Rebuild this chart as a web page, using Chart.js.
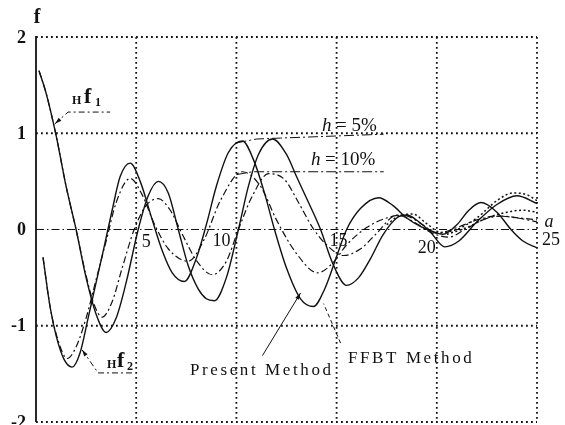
<!DOCTYPE html>
<html>
<head>
<meta charset="utf-8">
<script src="https://cdn.jsdelivr.net/npm/chart.js@4.4.1/dist/chart.umd.min.js"></script>
<style>
  html, body { margin: 0; padding: 0; background: #fff; }
  #wrap { width: 565px; height: 425px; }
</style>
</head>
<body>
<div id="wrap"><canvas id="chart" width="565" height="425"></canvas></div>
<script>
const xTicks = [5, 10, 15, 20, 25];
const yTicks = [2, 1, 0, -1, -2];

// Hf1, h = 5%
const f1h5X = [0.15, 0.5, 1.0, 1.5, 2.0, 2.5, 3.0, 3.5, 4.0, 4.5, 5.1, 5.6, 6.1, 6.6, 7.1, 7.6, 8.1, 8.5, 8.9, 9.5, 10.1, 10.6, 11.1, 11.8, 12.5, 13.0, 13.6, 14.2, 14.8, 15.5, 16.1, 16.7, 17.3, 18.0, 18.5, 19.1, 19.7, 20.4, 21.1, 22.0, 23.0, 24.0, 25.0];
const f1h5Y = [1.65, 1.42, 0.98, 0.45, 0.0, -0.5, -0.88, -1.07, -0.92, -0.55, 0.0, 0.35, 0.5, 0.38, 0.0, -0.38, -0.62, -0.72, -0.74, -0.5, 0.0, 0.45, 0.78, 0.94, 0.78, 0.55, 0.28, 0.0, -0.35, -0.58, -0.5, -0.3, -0.06, 0.12, 0.15, 0.08, -0.03, -0.18, -0.12, 0.08, 0.26, 0.35, 0.27];

// Hf1, h = 10%
const f1h10X = [0.15, 0.5, 1.0, 1.5, 2.0, 2.5, 2.9, 3.3, 3.8, 4.3, 4.9, 5.5, 6.1, 6.7, 7.3, 8.0, 8.8, 9.5, 10.1, 10.8, 11.6, 12.4, 13.1, 13.8, 14.5, 15.35, 16.2, 17.0, 18.0, 19.0, 19.8, 20.6, 21.4, 22.3, 23.2, 24.1, 25.0];
const f1h10Y = [1.65, 1.42, 0.98, 0.45, 0.0, -0.48, -0.78, -0.91, -0.75, -0.4, 0.0, 0.25, 0.32, 0.2, -0.05, -0.32, -0.47, -0.33, 0.0, 0.35, 0.58, 0.52, 0.28, 0.02, -0.16, -0.27, -0.2, -0.04, 0.15, 0.06, -0.04, -0.08, 0.0, 0.1, 0.14, 0.12, 0.1];

// Hf2, h = 5%
const f2h5X = [0.35, 0.7, 1.0, 1.4, 1.8, 2.2, 2.6, 3.0, 3.4, 3.8, 4.2, 4.7, 5.2, 5.8, 6.3, 6.8, 7.4, 8.0, 8.5, 9.0, 9.6, 10.3, 10.9, 11.4, 11.9, 12.5, 13.2, 13.85, 14.4, 15.0, 15.5, 16.2, 17.1, 17.8, 18.5, 19.2, 19.8, 20.3, 21.0, 21.6, 22.2, 23.0, 23.7, 24.3, 25.0];
const f2h5Y = [-0.29, -0.8, -1.1, -1.35, -1.43, -1.28, -0.92, -0.55, -0.18, 0.2, 0.55, 0.69, 0.5, 0.1, -0.22, -0.45, -0.54, -0.3, 0.05, 0.45, 0.8, 0.92, 0.7, 0.38, 0.0, -0.4, -0.72, -0.8, -0.62, -0.28, 0.0, 0.22, 0.33, 0.25, 0.12, 0.03, -0.02, -0.05, 0.05, 0.2, 0.28, 0.18, 0.0, -0.12, -0.19];

// Hf2, h = 10%
const f2h10X = [0.35, 0.7, 1.1, 1.55, 2.0, 2.5, 3.0, 3.5, 4.0, 4.7, 5.3, 5.9, 6.6, 7.6, 8.4, 9.2, 10.3, 11.2, 12.0, 13.0, 14.05, 14.8, 15.5, 16.5, 17.5, 18.3, 19.3, 20.0, 21.0, 22.0, 23.0, 24.0, 25.0];
const f2h10Y = [-0.29, -0.8, -1.15, -1.34, -1.22, -0.92, -0.52, -0.12, 0.28, 0.53, 0.36, 0.06, -0.2, -0.33, -0.1, 0.3, 0.6, 0.45, 0.1, -0.25, -0.45, -0.35, -0.16, 0.02, 0.12, 0.15, 0.05, -0.04, 0.02, 0.1, 0.14, 0.12, 0.08];

// FFBT method, tails that part from the present method
const ffbt5X = [17.5, 18.2, 18.8, 19.5, 20.2, 21.0, 22.0, 23.0, 23.8, 24.5, 25.0];
const ffbt5Y = [0.05, 0.15, 0.16, 0.06, -0.03, 0.0, 0.12, 0.3, 0.38, 0.36, 0.3];
const ffbt10X = [20.5, 21.5, 22.5, 23.5, 24.3, 25.0];
const ffbt10Y = [-0.05, 0.02, 0.12, 0.18, 0.2, 0.18];

// leader lines for the labels
const leadF1X = [0.95, 1.6, 3.7];
const leadF1Y = [1.1, 1.22, 1.22];
const leadF2X = [2.3, 3.1, 4.85];
const leadF2Y = [-1.25, -1.49, -1.49];
const leadH5X = [10.0, 11.0, 12.2, 17.35];
const leadH5Y = [0.9, 0.94, 0.95, 0.99];
const leadH10X = [10.0, 10.8, 17.35];
const leadH10Y = [0.57, 0.6, 0.6];
const arrowPresentX = [11.3, 13.2];
const arrowPresentY = [-1.31, -0.66];
const arrowFfbtX = [15.2, 14.35];
const arrowFfbtY = [-1.18, -0.77];

function pts(xs, ys) {
    return xs.map((x, i) => ({ x: x, y: ys[i] }));
}

const ink = '#111';
const serif = '"Liberation Serif", "DejaVu Serif", serif';

function curve(xs, ys, dash, width) {
    return {
        data: pts(xs, ys),
        borderColor: ink,
        borderWidth: width,
        borderDash: dash,
        showLine: true,
        pointRadius: 0,
        cubicInterpolationMode: 'monotone',
        fill: false
    };
}

function leader(xs, ys, dash) {
    return {
        data: pts(xs, ys),
        borderColor: ink,
        borderWidth: 1,
        borderDash: dash,
        showLine: true,
        pointRadius: 0,
        tension: 0,
        fill: false
    };
}

const gridPlugin = {
    id: 'grid',
    beforeDatasetsDraw(chart) {
        const c = chart.ctx;
        const xs = chart.scales.x;
        const ys = chart.scales.y;
        const top = ys.getPixelForValue(2), bot = ys.getPixelForValue(-2);
        const left = xs.getPixelForValue(0), right = xs.getPixelForValue(25);
        c.save();
        c.strokeStyle = ink;
        c.lineWidth = 1.8;
        c.setLineDash([1.8, 3.2]);
        xTicks.forEach(v => {
            const p = xs.getPixelForValue(v);
            c.beginPath(); c.moveTo(p, top); c.lineTo(p, bot); c.stroke();
        });
        yTicks.forEach(v => {
            if (v === 0) return;
            const p = ys.getPixelForValue(v);
            c.beginPath(); c.moveTo(left, p); c.lineTo(right, p); c.stroke();
        });
        c.lineWidth = 1.1;
        c.setLineDash([8, 3, 1.5, 3]);
        const z = ys.getPixelForValue(0);
        c.beginPath(); c.moveTo(left, z); c.lineTo(right, z); c.stroke();
        c.setLineDash([]);
        c.lineWidth = 1.8;
        c.beginPath(); c.moveTo(left, top - 1); c.lineTo(left, bot); c.stroke();
        c.restore();
    }
};

function arrowHead(chart, xs, ys) {
    const c = chart.ctx;
    const n = xs.length;
    const x1 = chart.scales.x.getPixelForValue(xs[n - 2]), y1 = chart.scales.y.getPixelForValue(ys[n - 2]);
    const x2 = chart.scales.x.getPixelForValue(xs[n - 1]), y2 = chart.scales.y.getPixelForValue(ys[n - 1]);
    const a = Math.atan2(y2 - y1, x2 - x1);
    c.beginPath();
    c.moveTo(x2, y2);
    c.lineTo(x2 - 7 * Math.cos(a - 0.3), y2 - 7 * Math.sin(a - 0.3));
    c.lineTo(x2 - 7 * Math.cos(a + 0.3), y2 - 7 * Math.sin(a + 0.3));
    c.closePath();
    c.fill();
}

const textPlugin = {
    id: 'texts',
    afterDatasetsDraw(chart) {
        const c = chart.ctx;
        const xs = chart.scales.x;
        const ys = chart.scales.y;
        const left = xs.getPixelForValue(0);
        const z = ys.getPixelForValue(0);
        c.save();
        c.fillStyle = ink;

        // y tick labels
        c.font = 'bold 18px ' + serif;
        c.textAlign = 'right';
        c.textBaseline = 'middle';
        yTicks.forEach(v => {
            c.fillText(String(v), left - 10, ys.getPixelForValue(v) + 1);
        });

        // axis name
        c.textAlign = 'center';
        c.font = 'bold 20px ' + serif;
        c.fillText('f', left + 1, 18);

        // x tick labels sitting on the zero line
        const dx = [10, -15, 2, -10, 14];
        const dy = [13, 12, 12, 19, 11];
        c.font = '18px ' + serif;
        xTicks.forEach((v, i) => {
            c.fillText(String(v), xs.getPixelForValue(v) + dx[i], z + dy[i]);
        });
        c.font = 'italic 18px ' + serif;
        c.fillText('a', xs.getPixelForValue(25) + 12, z - 7);

        // curve names
        c.textAlign = 'left';
        c.textBaseline = 'alphabetic';
        c.font = 'bold 12px ' + serif;
        c.fillText('H', 72, 104);
        c.fillText('H', 107, 368);
        c.font = 'bold 22px ' + serif;
        c.fillText('f', 84, 103);
        c.fillText('f', 117, 367);
        c.font = 'bold 12px ' + serif;
        c.fillText('1', 95, 106);
        c.fillText('2', 127, 370);

        // damping labels
        c.font = 'italic 19px ' + serif;
        c.fillText('h', 322, 131);
        c.fillText('h', 311, 165);
        c.font = '19px ' + serif;
        c.fillText('= 5%', 336, 131);
        c.fillText('= 10%', 325, 165);

        // method labels
        c.font = '17px ' + serif;
        c.letterSpacing = '2.6px';
        c.fillText('Present Method', 190, 375);
        c.fillText('FFBT Method', 348, 363);
        c.letterSpacing = '0px';

        arrowHead(chart, arrowPresentX, arrowPresentY);
        arrowHead(chart, leadF1X.slice().reverse(), leadF1Y.slice().reverse());
        arrowHead(chart, leadF2X.slice().reverse(), leadF2Y.slice().reverse());
        c.restore();
    }
};

function fillChart() {
    const ctx = document.getElementById('chart').getContext('2d');
    const chart = new Chart(ctx, {
        type: 'scatter',
        data: {
            datasets: [
                curve(f1h5X, f1h5Y, [], 1.4),
                curve(f1h10X, f1h10Y, [7, 3, 2, 3], 1.2),
                curve(f2h5X, f2h5Y, [], 1.4),
                curve(f2h10X, f2h10Y, [7, 3, 2, 3], 1.2),
                curve(ffbt5X, ffbt5Y, [2, 2.5], 1.5),
                curve(ffbt10X, ffbt10Y, [2, 2.5], 1.5),
                leader(leadF1X, leadF1Y, [6, 3, 2, 3]),
                leader(leadF2X, leadF2Y, [6, 3, 2, 3]),
                leader(leadH5X, leadH5Y, [10, 3, 2, 3]),
                leader(leadH10X, leadH10Y, [10, 3, 2, 3]),
                leader(arrowPresentX, arrowPresentY, []),
                leader(arrowFfbtX, arrowFfbtY, [4, 3])
            ]
        },
        options: {
            responsive: false,
            animation: false,
            layout: {
                padding: { left: 36, right: 28, top: 37, bottom: 3 }
            },
            scales: {
                x: { type: 'linear', min: 0, max: 25, display: false },
                y: { type: 'linear', min: -2, max: 2, display: false }
            },
            plugins: {
                legend: { display: false },
                tooltip: { enabled: false }
            }
        },
        plugins: [gridPlugin, textPlugin]
    });
    return chart;
}

fillChart();
</script>
</body>
</html>
